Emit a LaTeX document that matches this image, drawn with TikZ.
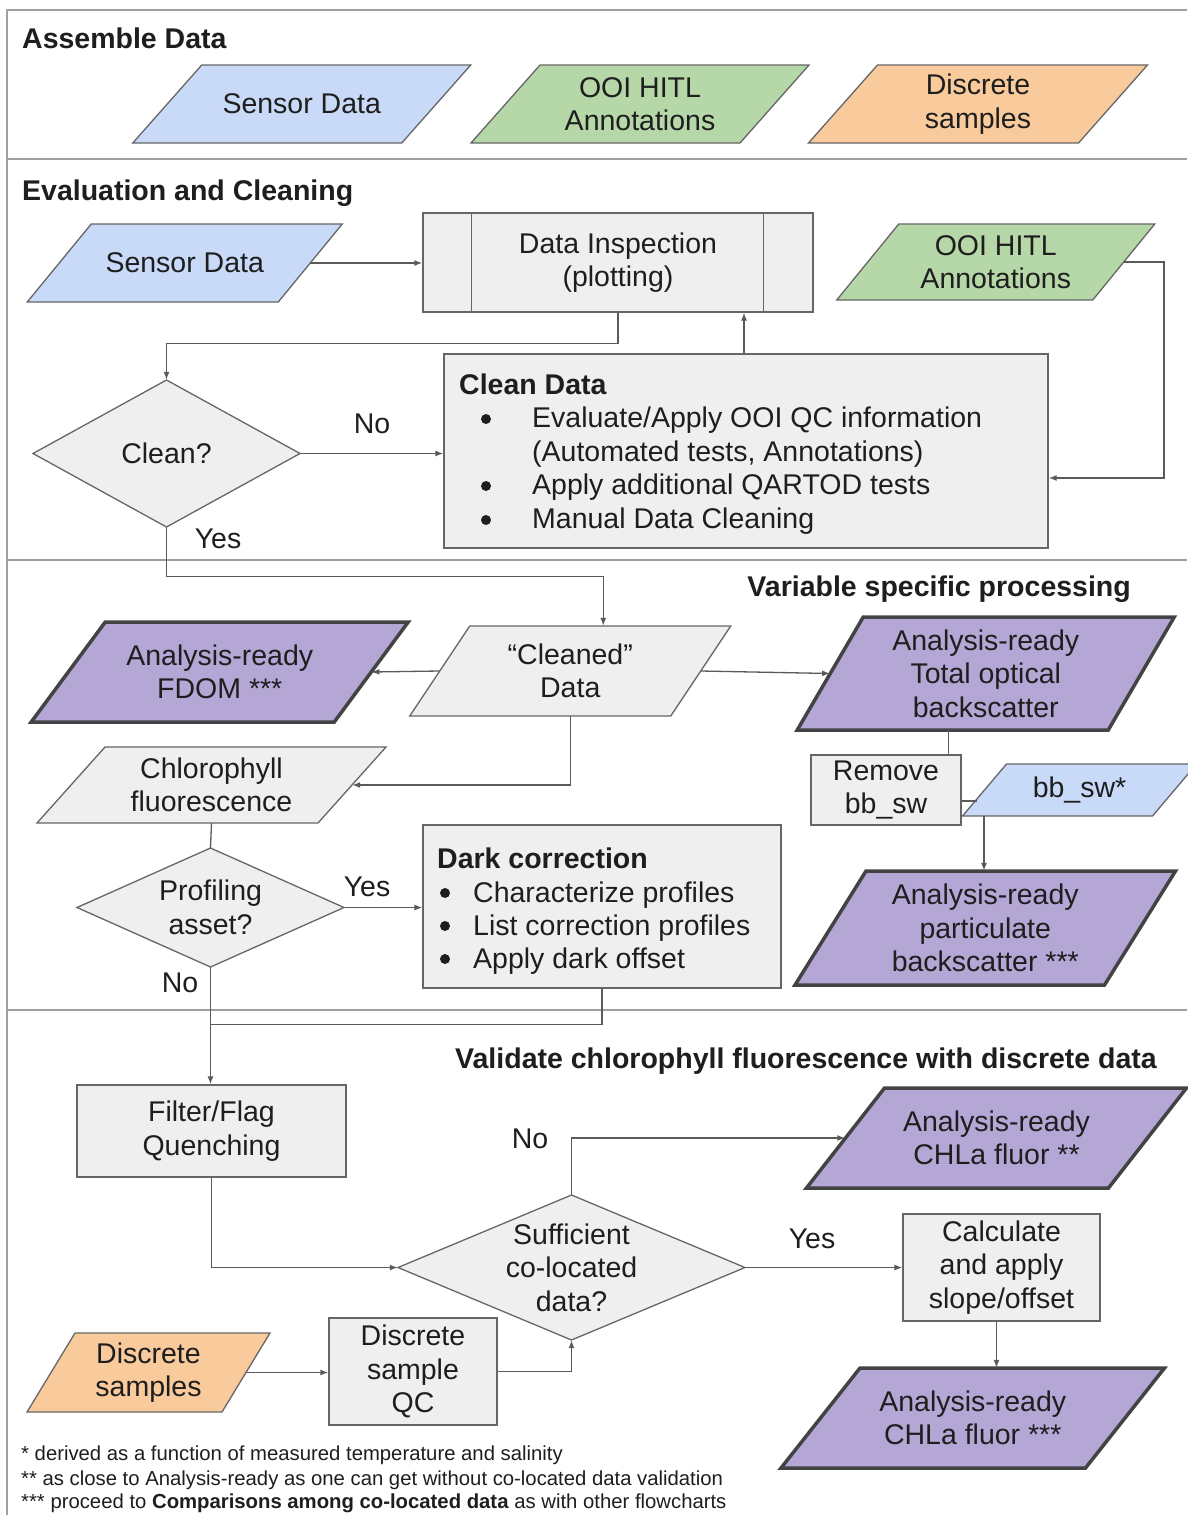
\documentclass[tikz,border=0pt]{standalone}
\usepackage{fontspec}
\setmainfont{Liberation Sans}
\usetikzlibrary{arrows.meta,calc}
\definecolor{greyfill}{HTML}{EFEFEF}
\definecolor{bluefill}{HTML}{C9DAF8}
\definecolor{greenfill}{HTML}{B6D7A8}
\definecolor{orangefill}{HTML}{F9CB9C}
\definecolor{purplefill}{HTML}{B4A7D6}
\definecolor{purpborder}{HTML}{434343}
\definecolor{borderc}{HTML}{666666}
\definecolor{connc}{HTML}{5A5A5A}
\definecolor{sepc}{HTML}{A0A0A0}
\definecolor{txtc}{HTML}{1E1E1E}
\newcommand\pgram[8]{%
  \path[#2] ({#3-#5/2+#7},{#4-#6/2}) -- ({#3+#5/2+#7},{#4-#6/2}) -- ({#3+#5/2-#7},{#4+#6/2}) -- ({#3-#5/2-#7},{#4+#6/2}) -- cycle;
  \node[txt,minimum width={#5pt},minimum height={#6pt}] (#1) at (#3,#4) {#8};}
\newcommand\dmd[6]{%
  \path[greyshape] ({#2-#4/2},#3) -- (#2,{#3-#5/2}) -- ({#2+#4/2},#3) -- (#2,{#3+#5/2}) -- cycle;
  \node[txt,minimum width={#4pt},minimum height={#5pt}] (#1) at (#2,#3) {#6};}
\begin{document}
\begin{tikzpicture}[x=1pt,y=-1pt,
  txt/.style={inner sep=0pt, align=center, text=txtc, font=\fontsize{28.5}{33.5}\selectfont},
  ttl/.style={inner sep=0pt, text=txtc, font=\fontsize{28.5}{33.5}\selectfont\bfseries},
  lbl/.style={inner sep=0pt, text=txtc, font=\fontsize{28.5}{33.5}\selectfont, anchor=base},
  bul/.style={circle, fill=txtc, inner sep=0pt, minimum size=10pt},
  foot/.style={inner sep=0pt, text=txtc, font=\fontsize{20.3}{24}\selectfont, anchor=base west},
  sepline/.style={draw=sepc, line width=1.5pt},
  conn/.style={draw=connc, line width=1.3pt},
  arr/.style={conn, -{Latex[length=8pt,width=6pt]}},
  greyshape/.style={fill=greyfill, draw=borderc, line width=1.3pt},
  blueshape/.style={fill=bluefill, draw=borderc, line width=1.3pt},
  greenshape/.style={fill=greenfill, draw=borderc, line width=1.3pt},
  orangeshape/.style={fill=orangefill, draw=borderc, line width=1.3pt},
  purpleshape/.style={fill=purplefill, draw=purpborder, line width=3.5pt},
  rectbox/.style={greyshape, txt}]
\useasboundingbox (0,0) rectangle (1187,1515);
\fill[white] (0,0) rectangle (1187,1515);
% section frames
\draw[sepline] (1187,10) -- (7,10) -- (7,1515);
\draw[sepline] (7,159) -- (1187,159);
\draw[sepline] (7,560) -- (1187,560);
\draw[sepline] (7,1010) -- (1187,1010);
% titles
\node[ttl, anchor=base west] (t1) at (22,48) {Assemble Data};
\node[ttl, anchor=base west] (t2) at (22,200) {Evaluation and Cleaning};
\node[ttl, anchor=base east] (t3) at (1131,596) {Variable specific processing};
\node[ttl, anchor=base west] (t4) at (455,1068) {Validate chlorophyll fluorescence with discrete data};
% section 1
\pgram{sd1}{blueshape}{301.75}{104}{269}{78}{34.5}{Sensor Data}
\pgram{ooi1}{greenshape}{640}{104}{269}{78}{34.5}{OOI HITL\\Annotations}
\pgram{disc1}{orangeshape}{978}{104}{270}{78}{34.5}{Discrete\\samples}
% section 2
\pgram{sd2}{blueshape}{184.75}{263}{251}{78}{32}{Sensor Data}
\pgram{ooi2}{greenshape}{995.75}{262}{256}{76}{31}{OOI HITL\\Annotations}
\node[rectbox, minimum width=390pt, minimum height=99pt] (insp) at (618,262.5) {Data Inspection\\(plotting)};
\draw[draw=borderc, line width=1.3pt] ($(insp.north west)+(49,0)$) -- ($(insp.south west)+(49,0)$);
\draw[draw=borderc, line width=1.3pt] ($(insp.north east)+(-50,0)$) -- ($(insp.south east)+(-50,0)$);
\node[rectbox, minimum width=604pt, minimum height=194pt] (cleandata) at (746,451) {};
\node[ttl, anchor=base west] (cd0) at (459,394) {Clean Data};
\node[bul] (cb1) at (486,419) {};
\node[lbl, anchor=base west] (cd1) at (532,427) {Evaluate/Apply OOI QC information};
\node[lbl, anchor=base west] (cd2) at (532,461) {(Automated tests, Annotations)};
\node[bul] (cb3) at (486,486) {};
\node[lbl, anchor=base west] (cd3) at (532,494) {Apply additional QARTOD tests};
\node[bul] (cb4) at (486,520) {};
\node[lbl, anchor=base west] (cd4) at (532,528) {Manual Data Cleaning};
\dmd{cleanq}{166.5}{453.5}{267}{147}{Clean?}
% section 3
\pgram{cleaned}{greyshape}{570.25}{671}{261}{90}{30}{“Cleaned”\\Data}
\pgram{fdom}{purpleshape}{219.75}{672}{303}{100}{37}{Analysis-ready\\FDOM ***}
\pgram{tob}{purpleshape}{985.75}{673.5}{311}{113}{33}{Analysis-ready\\Total optical\\backscatter}
\node[rectbox, minimum width=150pt, minimum height=70pt] (remove) at (886,790) {Remove\\bb\_sw};
\pgram{bbsw}{blueshape}{1079.5}{790}{190}{52}{22}{bb\_sw*}
\pgram{part}{purpleshape}{985.25}{928}{309.5}{114}{35.5}{Analysis-ready\\particulate\\backscatter ***}
\pgram{chloro}{greyshape}{211.5}{785}{281}{76}{34}{Chlorophyll\\fluorescence}
\dmd{prof}{210.5}{907.5}{267}{119}{Profiling\\asset?}
\node[rectbox, minimum width=358pt, minimum height=163pt] (dark) at (602,906.5) {};
\node[ttl, anchor=base west] (dk0) at (437,868) {Dark correction};
\node[bul] (db1) at (445,893) {};
\node[lbl, anchor=base west] (dk1) at (473,902) {Characterize profiles};
\node[bul] (db2) at (445,926) {};
\node[lbl, anchor=base west] (dk2) at (473,935) {List correction profiles};
\node[bul] (db3) at (445,959) {};
\node[lbl, anchor=base west] (dk3) at (473,968) {Apply dark offset};
% section 4
\node[rectbox, minimum width=269pt, minimum height=92pt] (filter) at (211.5,1131) {Filter/Flag\\Quenching};
\dmd{suff}{571.5}{1267.5}{347}{145}{Sufficient\\co-located\\data?}
\pgram{chla2}{purpleshape}{996.5}{1138}{302}{100}{39}{Analysis-ready\\CHLa fluor **}
\node[rectbox, minimum width=197pt, minimum height=107pt] (calc) at (1001.5,1267.5) {Calculate\\and apply\\slope/offset};
\pgram{chla3}{purpleshape}{972.75}{1418}{304.5}{100}{39.5}{Analysis-ready\\CHLa fluor ***}
\pgram{disc2}{orangeshape}{148.5}{1372.5}{195}{79}{24}{Discrete\\samples}
\node[rectbox, minimum width=168pt, minimum height=107pt] (qc) at (413,1371.5) {Discrete\\sample\\QC};
% connectors
\draw[arr] (sd2.east) -- (sd2.east -| insp.west);
\draw[arr] (insp.south) -- ++(0,31) -| (cleanq.north);
\draw[arr] ($(cleandata.north)+(-2,0)$) coordinate (cu) -- (cu |- insp.south);
\coordinate (oc) at (1164,478);
\draw[arr] (ooi2.east) -| (oc) -- (oc -| cleandata.east);
\draw[arr] (cleanq.east) -- (cleanq.east -| cleandata.west);
\draw[arr] (cleanq.south) -- ++(0,49) -| ($(cleaned.north)+(33,0)$);
\draw[arr] (cleaned.west) -- (fdom.east);
\draw[arr] (cleaned.east) -- (tob.west);
\draw[conn] ($(tob.south)+(-37,0)$) coordinate (tb) -- (tb |- remove.north);
\draw[conn] ($(remove.east)+(0,11)$) -- ++(15,0);
\draw[arr] ($(bbsw.south)+(-95.5,0)$) coordinate (bb) -- (bb |- part.north);
\draw[arr] (cleaned.south) |- (chloro.east);
\draw[conn] (chloro.south) -- (prof.north);
\draw[arr] (prof.east) -- (prof.east -| dark.west);
\draw[arr] (prof.south) -- (prof.south |- filter.north);
\draw[conn] (dark.south) |- ($(prof.south)!0.49!(filter.north)$);
\draw[arr] (filter.south) |- (suff.west);
\draw[arr] (suff.north) |- (chla2.west);
\draw[arr] (suff.east) -- (calc.west);
\draw[arr] ($(calc.south)+(-5,0)$) coordinate (cs) -- (cs |- chla3.north);
\draw[arr] (disc2.east) -- (disc2.east -| qc.west);
\draw[arr] (qc.east) -| (suff.south);
% labels
\node[lbl] (l1) at (372,433) {No};
\node[lbl] (l2) at (218,548) {Yes};
\node[lbl] (l3) at (367,896) {Yes};
\node[lbl] (l4) at (180,992) {No};
\node[lbl] (l5) at (530,1148) {No};
\node[lbl] (l6) at (812,1248) {Yes};
% footnotes
\node[foot] (f1) at (21,1460) {* derived as a function of measured temperature and salinity};
\node[foot] (f2) at (21,1485) {** as close to Analysis-ready as one can get without co-located data validation};
\node[foot] (f3) at (21,1508) {*** proceed to \textbf{Comparisons among co-located data} as with other flowcharts};
\end{tikzpicture}
\end{document}
